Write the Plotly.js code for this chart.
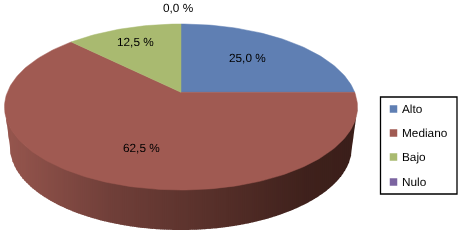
<!DOCTYPE html>
<html>
<head>
<meta charset="utf-8">
<script src="https://cdn.plot.ly/plotly-3.0.1.min.js"></script>
<style>html,body{margin:0;padding:0;background:#fff}#c{width:464px;height:240px;filter:blur(0.3px);text-rendering:geometricPrecision}</style>
</head>
<body>
<div id="c"></div>
<script>
const categories = ['Alto', 'Mediano', 'Bajo', 'Nulo'];
const values = [25.0, 62.5, 12.5, 0.0];
const colors = ['#5f7fb3', '#a05a52', '#a9ba70', '#7b64a0'];

// Drawing geometry (pixel-like axis units)
const cx = 181, cy = 107, a = 176.5, b = 83, apexY = 92.3, k = 81;
const bx = 181, by = 147, ba = 171, bb = 83;

function rim(theta) {
  const ay0 = (apexY - cy) / b;
  const dx = Math.sin(theta), dy = -Math.cos(theta) * k / b;
  const A = dx * dx + dy * dy, B = 2 * ay0 * dy, C = ay0 * ay0 - 1;
  const t = (-B + Math.sqrt(B * B - 4 * A * C)) / (2 * A);
  return [cx + a * t * dx, cy + b * (ay0 + t * dy)];
}

const traces = [];
// side wall, shaded left to right in vertical strips
const stops = [[0, [150, 86, 78]], [0.3, [112, 63, 57]], [0.6, [86, 47, 41]], [0.85, [63, 33, 28]], [1, [58, 30, 25]]];
function shade(u) {
  for (let i = 1; i < stops.length; i++) {
    if (u <= stops[i][0]) {
      const f = (u - stops[i - 1][0]) / (stops[i][0] - stops[i - 1][0]);
      const c = stops[i - 1][1].map((v, j) => Math.round(v + (stops[i][1][j] - v) * f));
      return 'rgb(' + c.join(',') + ')';
    }
  }
  return 'rgb(58,30,25)';
}
const xL = cx - a, xR = cx + a, bL = bx - ba, bR = bx + ba;
function topEdge(x) {
  const u = (x - cx) / a;
  return cy + b * Math.sqrt(Math.max(0, 1 - u * u));
}
function bottomEdge(x) {
  if (x <= bL) return cy + (by - cy) * (x - xL) / (bL - xL);
  if (x >= bR) return cy + (by - cy) * (xR - x) / (xR - bR);
  const u = (x - bx) / ba;
  return by + bb * Math.sqrt(Math.max(0, 1 - u * u));
}
const step = 2;
for (let x = xL; x < xR; x += step) {
  const x1 = Math.min(x + step + 0.6, xR);
  const xs = [], ys = [];
  const m = 4;
  for (let j = 0; j <= m; j++) { const q = x + (x1 - x) * j / m; xs.push(q); ys.push(topEdge(q) - 1); }
  for (let j = m; j >= 0; j--) { const q = x + (x1 - x) * j / m; xs.push(q); ys.push(bottomEdge(q)); }
  const col = shade((x - xL) / (xR - xL));
  traces.push({x: xs, y: ys, mode: 'lines', fill: 'toself', fillcolor: col, line: {width: 0}, hoverinfo: 'skip', showlegend: false});
}
// top sectors, clockwise from twelve o'clock
const total = values.reduce((s, v) => s + v, 0);
let acc = 0;
values.forEach((v, i) => {
  if (v > 0) {
    const t0 = acc / total * 2 * Math.PI, t1 = (acc + v) / total * 2 * Math.PI;
    const xs = [cx], ys = [apexY];
    const n = Math.max(8, Math.round(v * 3));
    for (let j = 0; j <= n; j++) {
      const p = rim(t0 + (t1 - t0) * j / n);
      xs.push(p[0]); ys.push(p[1]);
    }
    xs.push(cx); ys.push(apexY);
    traces.push({x: xs, y: ys, name: categories[i], mode: 'lines', fill: 'toself', fillcolor: colors[i], line: {color: colors[i], width: 0.5}, hoverinfo: 'name', showlegend: false});
  }
  acc += v;
});

const font = {family: '"Liberation Sans", Arial, sans-serif', size: 11.8, color: '#000'};
const fmt = v => v.toFixed(1).replace('.', ',') + ' %';
const labelX = [247, 141, 135.5, 178];
const labelY = [58, 148, 42, 8];
const legendY = [109, 133, 157, 182];

const annotations = values.map((v, i) => ({x: labelX[i], y: labelY[i], text: fmt(v), showarrow: false, font: font, xanchor: 'center', yanchor: 'middle'}));
categories.forEach((c, i) => {
  annotations.push({x: 401, y: legendY[i], text: c, showarrow: false, font: font, xanchor: 'left', yanchor: 'middle', xshift: -1});
  traces.push({x: [393.5], y: [legendY[i]], mode: 'markers', name: c, marker: {symbol: 'square', size: 7.5, color: colors[i]}, hoverinfo: 'name', showlegend: false});
});

const layout = {
  width: 464, height: 240,
  margin: {l: 0, r: 0, t: 0, b: 0},
  paper_bgcolor: '#fff', plot_bgcolor: '#fff',
  showlegend: false,
  xaxis: {range: [0, 464], visible: false, fixedrange: true},
  yaxis: {range: [240, 0], visible: false, fixedrange: true},
  shapes: [{type: 'rect', x0: 380.5, x1: 457, y0: 97, y1: 194, line: {color: '#000', width: 1.3}, fillcolor: '#fff', layer: 'below'}],
  annotations: annotations
};
Plotly.newPlot('c', traces, layout, {displayModeBar: false, staticPlot: true});
</script>
</body>
</html>
